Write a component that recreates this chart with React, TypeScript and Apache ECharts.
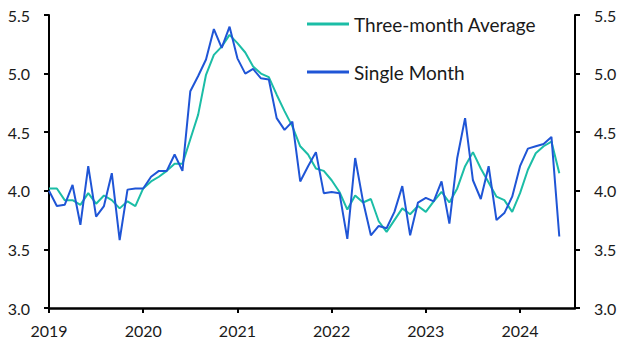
import React, { useEffect, useRef } from "react";
import * as echarts from "echarts";

const years = [2019, 2020, 2021, 2022, 2023, 2024];
const monthsShown = 68; // Jan 2019 .. Aug 2024 (axis extends two months past last data point)

const singleMonth = [
  4.0, 3.87, 3.88, 4.05, 3.71, 4.21, 3.78, 3.87, 4.15, 3.58, 4.01, 4.02,
  4.02, 4.12, 4.17, 4.17, 4.31, 4.17, 4.85, 4.98, 5.12, 5.38, 5.22, 5.4,
  5.13, 5.0, 5.04, 4.96, 4.95, 4.62, 4.52, 4.59, 4.08, 4.21, 4.33, 3.98,
  3.99, 3.98, 3.59, 4.28, 3.91, 3.62, 3.7, 3.68, 3.82, 4.04, 3.62, 3.9,
  3.94, 3.91, 4.08, 3.72, 4.28, 4.62, 4.09, 3.93, 4.21, 3.75, 3.81, 3.95,
  4.21, 4.36, 4.38, 4.4, 4.46, 3.61,
];

const threeMonthAverage = [
  4.02, 4.02, 3.92, 3.92, 3.88, 3.98, 3.89, 3.96, 3.92, 3.85, 3.91, 3.87,
  4.02, 4.08, 4.12, 4.17, 4.23, 4.23, 4.44, 4.65, 4.99, 5.16, 5.23, 5.33,
  5.26, 5.18, 5.06, 5.0, 4.97, 4.82, 4.68, 4.55, 4.38, 4.31, 4.19, 4.17,
  4.09, 3.99, 3.84, 3.96, 3.9, 3.93, 3.74, 3.65, 3.75, 3.85, 3.8, 3.87,
  3.82, 3.91, 3.99, 3.9, 4.02, 4.21, 4.33, 4.19, 4.07, 3.95, 3.92, 3.82,
  3.98, 4.18, 4.32, 4.38, 4.42, 4.15,
];

const yTicks = [3.0, 3.5, 4.0, 4.5, 5.0, 5.5];

const categories: string[] = [];
for (let i = 0; i < monthsShown; i++) {
  const y = years[0] + Math.floor(i / 12);
  const m = (i % 12) + 1;
  categories.push(`${y}-${m < 10 ? "0" + m : m}`);
}

const FONT = "Lato";
const TEXT = "#1a1a1a";
const TEAL = "#1bbda6";
const BLUE = "#1f55d6";

export default function App() {
  const ref = useRef<HTMLDivElement>(null);
  useEffect(() => {
    if (!ref.current) return;
    const chart = echarts.init(ref.current, undefined, { renderer: "svg" });
    const yAxisCommon = {
      type: "value" as const,
      min: yTicks[0],
      max: yTicks[yTicks.length - 1],
      interval: 0.5,
      splitLine: { show: false },
      axisLine: { show: true, lineStyle: { color: "#000", width: 2 } },
      axisTick: { show: true, length: 5, lineStyle: { color: "#000", width: 2 } },
      axisLabel: {
        color: TEXT,
        fontFamily: FONT,
        fontSize: 16,
        margin: 19,
        formatter: (v: number) => v.toFixed(1),
      },
    };
    chart.setOption({
      animation: false,
      grid: { left: 49, right: 54, top: 15, bottom: 47, containLabel: false },
      legend: {
        left: 302,
        top: 9,
        orient: "vertical",
        itemWidth: 42,
        itemHeight: 3,
        itemGap: 28,
        icon: "rect",
        textStyle: { color: TEXT, fontFamily: FONT, fontSize: 19, lineHeight: 20 },
        data: ["Three-month Average", "Single Month"],
      },
      xAxis: {
        type: "category",
        data: categories,
        boundaryGap: false,
        axisLine: { show: true, lineStyle: { color: "#000", width: 2.5 } },
        axisTick: {
          show: true,
          length: 5,
          interval: (i: number) => i % 12 === 0,
          lineStyle: { color: "#000", width: 2 },
        },
        axisLabel: {
          color: TEXT,
          fontFamily: FONT,
          fontSize: 16,
          margin: 14,
          interval: (i: number) => i % 12 === 0,
          formatter: (v: string) => v.slice(0, 4),
        },
        splitLine: { show: false },
      },
      yAxis: [
        { ...yAxisCommon, position: "left" },
        { ...yAxisCommon, position: "right" },
      ],
      series: [
        {
          name: "Three-month Average",
          type: "line",
          data: threeMonthAverage,
          symbol: "none",
          lineStyle: { color: TEAL, width: 2 },
          itemStyle: { color: TEAL },
          z: 2,
        },
        {
          name: "Single Month",
          type: "line",
          data: singleMonth,
          symbol: "none",
          lineStyle: { color: BLUE, width: 2 },
          itemStyle: { color: BLUE },
          z: 3,
        },
      ],
    });
    return () => chart.dispose();
  }, []);
  return <div ref={ref} style={{ width: 629, height: 355, position: "absolute", left: 0, top: 0 }} />;
}
